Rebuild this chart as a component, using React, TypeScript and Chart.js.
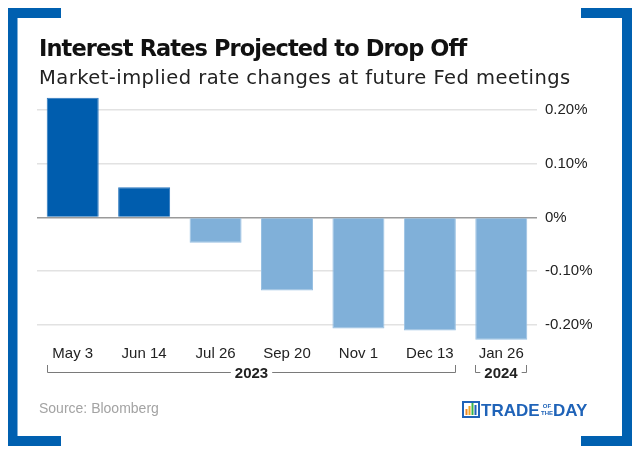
import React, { useEffect, useRef } from "react";
import { Chart, registerables } from "chart.js";

Chart.register(...registerables);

const categories = ["May 3", "Jun 14", "Jul 26", "Sep 20", "Nov 1", "Dec 13", "Jan 26"];
const rateChanges = [0.223, 0.056, -0.047, -0.136, -0.207, -0.211, -0.228];
const yTickValues = [0.2, 0.1, 0, -0.1, -0.2];
const yTickLabels = ["0.20%", "0.10%", "0%", "-0.10%", "-0.20%"];
const yearLabels = ["2023", "2024"];
const yearFirstIndex = [0, 6];
const yearLastIndex = [5, 6];

const TITLE = "Interest Rates Projected to Drop Off";
const SUBTITLE = "Market-implied rate changes at future Fed meetings";
const SOURCE = "Source: Bloomberg";

const FRAME_BLUE = "#0060b0";
const DARK_BLUE = "#005dae";
const LIGHT_BLUE = "#80b0d9";
const SANS = '"Liberation Sans", Arial, sans-serif';

function fitText(ctx: any, text: string, x: number, y: number, font: string, targetWidth: number) {
  ctx.font = font;
  ctx.letterSpacing = "0px";
  const w = ctx.measureText(text).width;
  const sp = (targetWidth - w) / Math.max(1, text.length - 1);
  ctx.letterSpacing = `${sp.toFixed(2)}px`;
  ctx.fillText(text, x, y);
  ctx.letterSpacing = "0px";
}

const decorPlugin = {
  id: "decor",
  afterDraw(chart: any) {
    const ctx = chart.ctx as CanvasRenderingContext2D;
    ctx.save();
    // frame
    ctx.fillStyle = FRAME_BLUE;
    ctx.fillRect(8, 8, 9.5, 438);
    ctx.fillRect(622, 8, 10, 438);
    ctx.fillRect(8, 8, 53, 10);
    ctx.fillRect(581, 8, 51, 10);
    ctx.fillRect(8, 436, 53, 10);
    ctx.fillRect(581, 436, 51, 10);

    // titles
    ctx.fillStyle = "#111";
    ctx.textAlign = "left";
    ctx.textBaseline = "alphabetic";
    fitText(ctx, TITLE, 39, 56, 'bold 22.5px "DejaVu Sans", sans-serif', 427);
    ctx.fillStyle = "#222";
    fitText(ctx, SUBTITLE, 39, 84, '19.5px "DejaVu Sans", sans-serif', 531);

    // year brackets
    const meta = chart.getDatasetMeta(0);
    ctx.strokeStyle = "#7a7a7a";
    ctx.lineWidth = 1;
    ctx.font = `bold 15px ${SANS}`;
    ctx.textBaseline = "middle";
    ctx.textAlign = "center";
    const lineY = 372.5;
    const topY = 365;
    yearLabels.forEach((label, g) => {
      const a = meta.data[yearFirstIndex[g]];
      const b = meta.data[yearLastIndex[g]];
      const x0 = Math.round(a.x - a.width / 2) + 0.5;
      const x1 = Math.round(b.x + b.width / 2) - 0.5;
      const cx = (x0 + x1) / 2;
      const tw = ctx.measureText(label).width;
      const gap = tw / 2 + 4;
      ctx.beginPath();
      ctx.moveTo(x0, topY);
      ctx.lineTo(x0, lineY);
      ctx.lineTo(cx - gap, lineY);
      ctx.moveTo(cx + gap, lineY);
      ctx.lineTo(x1, lineY);
      ctx.lineTo(x1, topY);
      ctx.stroke();
      ctx.fillStyle = "#222";
      ctx.fillText(label, cx, lineY + 1);
    });

    // source
    ctx.textAlign = "left";
    ctx.font = `14px ${SANS}`;
    ctx.fillStyle = "#a3a3a3";
    ctx.fillText(SOURCE, 39, 409);

    // logo
    ctx.strokeStyle = "#1f63b8";
    ctx.lineWidth = 2;
    ctx.strokeRect(463, 402, 16, 15);
    const barCols = ["#f08a24", "#f5a623", "#39b54a", "#1f63b8"];
    const barH = [6, 9, 12, 10];
    barCols.forEach((c, i) => {
      ctx.fillStyle = c;
      ctx.fillRect(465.5 + i * 3, 415 - barH[i], 2, barH[i]);
    });
    ctx.fillStyle = "#1f63b8";
    ctx.textBaseline = "alphabetic";
    ctx.font = `bold 17px ${SANS}`;
    ctx.fillText("TRADE", 481, 416);
    ctx.font = `bold 6px ${SANS}`;
    ctx.textAlign = "center";
    ctx.fillText("OF", 547, 408);
    ctx.fillText("THE", 547, 415);
    ctx.textAlign = "left";
    ctx.font = `bold 17px ${SANS}`;
    ctx.fillText("DAY", 553, 416);
    ctx.restore();
  },
};

export default function App() {
  const ref = useRef<HTMLCanvasElement | null>(null);

  useEffect(() => {
    document.body.style.margin = "0";
    if (!ref.current) return;
    const chart = new Chart(ref.current, {
      type: "bar",
      data: {
        labels: categories,
        datasets: [
          {
            data: rateChanges,
            backgroundColor: (c: any) => ((c.raw ?? 0) >= 0 ? DARK_BLUE : LIGHT_BLUE),
            borderColor: (c: any) => ((c.raw ?? 0) >= 0 ? "#2a76bd" : "#98c0e2"),
            borderWidth: 1,
            categoryPercentage: 1,
            barPercentage: 0.728,
          },
        ],
      },
      options: {
        animation: false,
        responsive: false,
        devicePixelRatio: 1,
        layout: { padding: { left: 37, right: 0, top: 94, bottom: 87.5 } },
        plugins: { legend: { display: false }, tooltip: { enabled: false }, title: { display: false } },
        scales: {
          x: {
            grid: { display: false, drawTicks: false },
            border: { display: false },
            ticks: {
              color: "#222",
              font: { family: SANS, size: 15 },
              padding: 1,
              maxRotation: 0,
              autoSkip: false,
            },
            afterFit: (s: any) => {
              s.height = 22;
            },
          },
          y: {
            position: "right",
            min: -0.235,
            max: 0.23,
            grid: {
              drawTicks: false,
              color: (c: any) => (c.tick && c.tick.value === 0 ? "#9a9a9a" : "#e2e2e2"),
              lineWidth: 1.5,
            },
            border: { display: false },
            ticks: {
              color: "#222",
              font: { family: SANS, size: 15 },
              padding: 8,
              callback: (v: any) => {
                const i = yTickValues.findIndex((t) => Math.abs(t - Number(v)) < 1e-9);
                return i >= 0 ? yTickLabels[i] : "";
              },
            },
            afterBuildTicks: (s: any) => {
              s.ticks = yTickValues.map((v) => ({ value: v }));
            },
            afterFit: (s: any) => {
              s.width = 103;
            },
          },
        },
      },
      plugins: [decorPlugin],
    });
    return () => chart.destroy();
  }, []);

  return (
    <div style={{ width: 640, height: 453, position: "relative", background: "#fff" }}>
      <canvas ref={ref} width={640} height={453} style={{ display: "block" }} />
    </div>
  );
}
